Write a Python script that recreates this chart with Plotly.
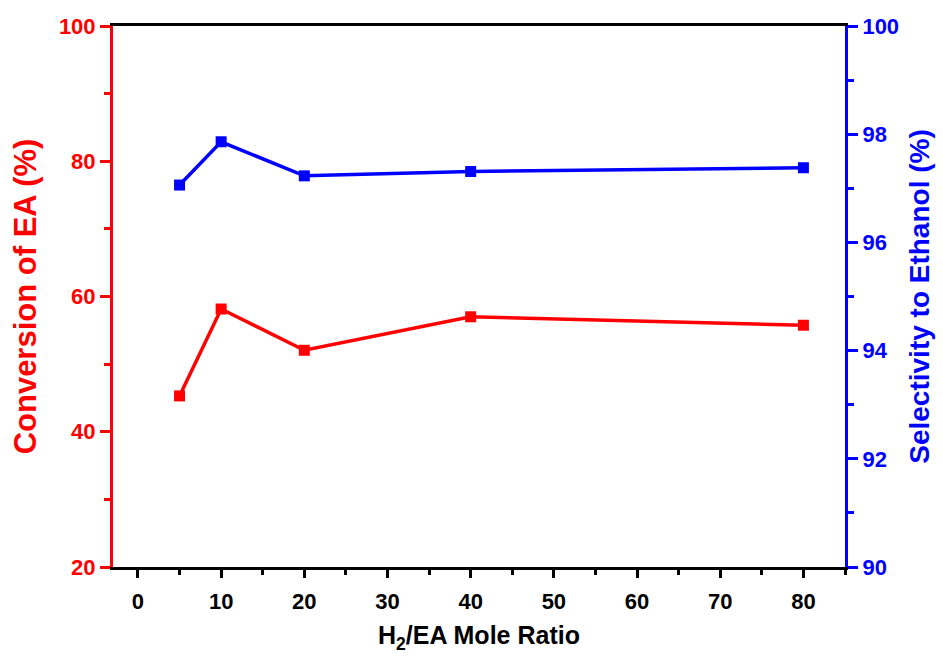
import plotly.graph_objects as go

# H2/EA mole ratio and the two measured responses
ratio = [5, 10, 20, 40, 80]
conversion_ea = [45.3, 58.15, 52.05, 57.0, 55.75]        # %
selectivity_ethanol = [97.06, 97.86, 97.23, 97.31, 97.38]  # %

RED = "#ff0000"
BLUE = "#0000ff"
FONT = "Liberation Sans"

fig = go.Figure()

fig.add_trace(go.Scatter(
    x=ratio, y=conversion_ea, mode="lines+markers",
    line=dict(color=RED, width=3.5),
    marker=dict(symbol="square", size=11, color=RED),
    name="Conversion of EA", yaxis="y",
))
fig.add_trace(go.Scatter(
    x=ratio, y=selectivity_ethanol, mode="lines+markers",
    line=dict(color=BLUE, width=3.5),
    marker=dict(symbol="square", size=11, color=BLUE),
    name="Selectivity to Ethanol", yaxis="y2",
))

fig.update_layout(
    width=943, height=660,
    margin=dict(l=113, r=95, t=26, b=93),
    paper_bgcolor="white", plot_bgcolor="white",
    showlegend=False,
    font=dict(family=FONT, weight="bold"),
    xaxis=dict(
        range=[-3, 85], tick0=0, dtick=10,
        showgrid=False, zeroline=False,
        showline=True, linecolor="black", linewidth=3, mirror=True,
        ticks="outside", ticklen=8, tickwidth=3, tickcolor="black",
        ticklabelstandoff=5,
        minor=dict(ticks="outside", ticklen=5, tickwidth=3, tickcolor="black",
                   dtick=5, tick0=0, showgrid=False),
        tickfont=dict(family=FONT, size=22, color="black", weight="bold"),
        title=dict(text="H<sub>2</sub>/EA Mole Ratio", standoff=14,
                   font=dict(family=FONT, size=25, color="black", weight="bold")),
    ),
    yaxis=dict(
        range=[20, 100], tick0=20, dtick=20,
        showgrid=False, zeroline=False,
        showline=True, linecolor=RED, linewidth=3,
        ticks="outside", ticklen=10, tickwidth=3, tickcolor=RED,
        minor=dict(ticks="outside", ticklen=6, tickwidth=3, tickcolor=RED,
                   dtick=10, tick0=20, showgrid=False),
        tickfont=dict(family=FONT, size=22, color=RED, weight="bold"),
        title=dict(text="Conversion of EA (%)", standoff=14,
                   font=dict(family=FONT, size=31, color=RED, weight="bold")),
    ),
    yaxis2=dict(
        range=[90, 100], tick0=90, dtick=2,
        overlaying="y", side="right",
        showgrid=False, zeroline=False,
        showline=True, linecolor=BLUE, linewidth=3,
        ticks="outside", ticklen=10, tickwidth=3, tickcolor=BLUE,
        minor=dict(ticks="outside", ticklen=6, tickwidth=3, tickcolor=BLUE,
                   dtick=1, tick0=90, showgrid=False),
        tickfont=dict(family=FONT, size=22, color=BLUE, weight="bold"),
        title=dict(text="Selectivity to Ethanol (%)", standoff=12,
                   font=dict(family=FONT, size=28, color=BLUE, weight="bold")),
    ),
)

fig.write_html("out.html")
